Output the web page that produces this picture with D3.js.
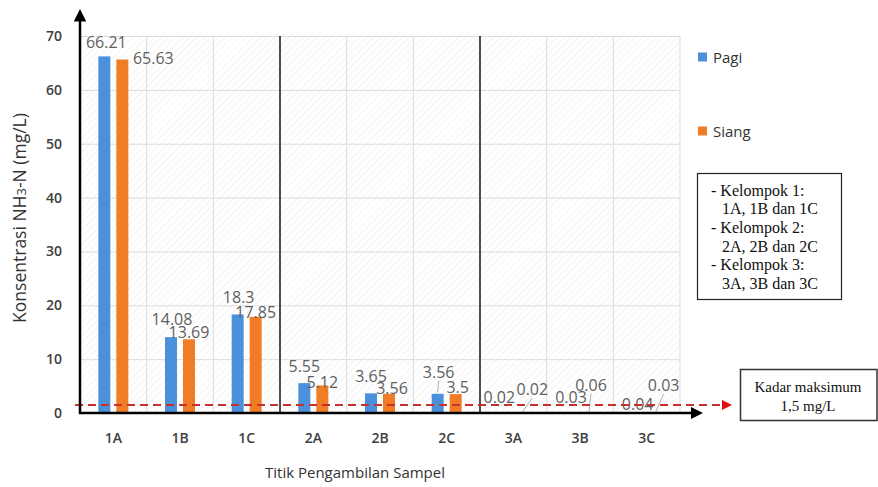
<!DOCTYPE html>
<html>
<head>
<meta charset="utf-8">
<script src="https://cdn.jsdelivr.net/npm/d3@7"></script>
<style>
  body { margin: 0; background: #fff; }
  svg { display: block; }
</style>
</head>
<body>
<svg></svg>
<script>
const categories = ['1A', '1B', '1C', '2A', '2B', '2C', '3A', '3B', '3C'];
const seriesNames = ['Pagi', 'Siang'];
const pagi = [66.21, 14.08, 18.3, 5.55, 3.65, 3.56, 0.02, 0.03, 0.04];
const siang = [65.63, 13.69, 17.85, 5.12, 3.56, 3.5, 0.02, 0.06, 0.03];
const labelsPagi = ['66.21', '14.08', '18.3', '5.55', '3.65', '3.56', '0.02', '0.03', '0.04'];
const labelsSiang = ['65.63', '13.69', '17.85', '5.12', '3.56', '3.5', '0.02', '0.06', '0.03'];
const yTicks = [0, 10, 20, 30, 40, 50, 60, 70];
const groupSplits = ['2A', '3A'];
const groupNotes = ['- Kelompok 1:', '1A, 1B dan 1C', '- Kelompok 2:', '2A, 2B dan 2C', '- Kelompok 3:', '3A, 3B dan 3C'];
const threshold = 1.5;
const thresholdNote = ['Kadar maksimum', '1,5 mg/L'];

// label nudges in px from the top centre of each bar (hand placed in the original)
const pagiShift = [[2, -14], [1, -18], [1, -17], [0, -17], [0, -17], [1, -22], [-5, -16], [0, -16], [0, -9]];
const siangShift = [[31, -2], [0, -7], [0, -5], [0, -3], [3, -6], [2, -7], [10, -24], [2, -28], [8, -28]];
const pagiLeader = ['2C'];
const siangLeader = ['3A', '3B', '3C'];

const colors = { Pagi: '#4a90db', Siang: '#f07c26' };
const sans = '"Open Sans", "Noto Sans", sans-serif';
const serif = '"Liberation Serif", "DejaVu Serif", serif';

const W = 878, H = 487;
const mLeft = 80, mRight = 680, mTop = 36, mBottom = 413;

const svg = d3.select('svg').attr('width', W).attr('height', H);

const defs = svg.append('defs');
const hatch = defs.append('pattern')
    .attr('id', 'hatch')
    .attr('width', 5).attr('height', 5)
    .attr('patternUnits', 'userSpaceOnUse')
    .attr('patternTransform', 'rotate(45)');
hatch.append('line')
    .attr('x1', 0).attr('y1', 0).attr('x2', 0).attr('y2', 5)
    .attr('stroke', '#f0f0f0').attr('stroke-width', 1.5);

defs.append('marker')
    .attr('id', 'blackArrow')
    .attr('viewBox', '0 0 10 10')
    .attr('refX', 2).attr('refY', 5)
    .attr('markerWidth', 5).attr('markerHeight', 5)
    .attr('orient', 'auto')
    .append('path').attr('d', 'M0,0 L10,5 L0,10 z').attr('fill', '#000');

defs.append('marker')
    .attr('id', 'redArrow')
    .attr('viewBox', '0 0 10 10')
    .attr('refX', 2).attr('refY', 5)
    .attr('markerWidth', 5).attr('markerHeight', 5)
    .attr('orient', 'auto')
    .append('path').attr('d', 'M0,0 L10,5 L0,10 z').attr('fill', '#e01010');

const x = d3.scaleBand().domain(categories).range([mLeft, mRight]).paddingInner(0).paddingOuter(0);
const bw = x.bandwidth();
const x1 = d3.scaleBand().domain(seriesNames).range([bw / 2 - 15, bw / 2 + 15]).paddingInner(1 / 3);
const y = d3.scaleLinear().domain([0, 70]).range([mBottom, mTop]);

// plot background
svg.append('rect')
    .attr('x', mLeft).attr('y', mTop - 3)
    .attr('width', mRight - mLeft).attr('height', mBottom - mTop + 3)
    .attr('fill', 'url(#hatch)');

// grid
svg.append('g')
    .attr('transform', `translate(${mLeft},0)`)
    .call(d3.axisLeft(y).tickValues(yTicks.slice(1)).tickSize(-(mRight - mLeft)).tickFormat(''))
    .call(g => g.select('.domain').remove())
    .call(g => g.selectAll('line').attr('stroke', '#dcdcdc'));

svg.append('g')
    .attr('transform', `translate(0,${mBottom})`)
    .call(d3.axisBottom(x).tickSize(-(mBottom - mTop)).tickFormat('').offset(0))
    .call(g => g.select('.domain').remove())
    .call(g => g.selectAll('.tick').attr('transform', d => `translate(${x(d) + bw},0)`))
    .call(g => g.selectAll('line').attr('stroke', '#dcdcdc'));

// group separators
svg.append('g').selectAll('line')
    .data(groupSplits)
    .join('line')
    .attr('x1', d => x(d)).attr('x2', d => x(d))
    .attr('y1', mTop).attr('y2', mBottom)
    .attr('stroke', '#4d4d4d').attr('stroke-width', 2);

// bars
const series = [
    { name: 'Pagi', values: pagi, labels: labelsPagi, shift: pagiShift, leader: pagiLeader },
    { name: 'Siang', values: siang, labels: labelsSiang, shift: siangShift, leader: siangLeader }
];

series.forEach(s => {
    const rows = categories.map((c, i) => ({ c, v: s.values[i], t: s.labels[i], sh: s.shift[i] }));
    const cx = d => x(d.c) + x1(s.name) + x1.bandwidth() / 2;

    svg.append('g').selectAll('rect')
        .data(rows)
        .join('rect')
        .attr('x', d => x(d.c) + x1(s.name))
        .attr('y', d => y(d.v))
        .attr('width', x1.bandwidth())
        .attr('height', d => y(0) - y(d.v))
        .attr('fill', colors[s.name]);

    svg.append('g').selectAll('line')
        .data(rows.filter(d => s.leader.includes(d.c)))
        .join('line')
        .attr('x1', d => cx(d) + d.sh[0]).attr('y1', d => y(d.v) + d.sh[1] + 9)
        .attr('x2', d => cx(d)).attr('y2', d => y(d.v) - 1)
        .attr('stroke', '#b0b0b0').attr('stroke-width', 1);

    svg.append('g').selectAll('text')
        .data(rows)
        .join('text')
        .attr('x', d => cx(d) + d.sh[0])
        .attr('y', d => y(d.v) + d.sh[1])
        .attr('text-anchor', 'middle')
        .attr('dominant-baseline', 'central')
        .attr('font-family', sans).attr('font-size', 16)
        .attr('fill', '#5f5f5f')
        .text(d => d.t);
});

// threshold line
svg.append('line')
    .attr('x1', mLeft - 5).attr('x2', 724)
    .attr('y1', y(threshold)).attr('y2', y(threshold))
    .attr('stroke', '#c9302c').attr('stroke-width', 2)
    .attr('stroke-dasharray', '8,5')
    .attr('marker-end', 'url(#redArrow)');

// axes
const yAxis = svg.append('g')
    .attr('transform', `translate(${mLeft},0)`)
    .call(d3.axisLeft(y).tickValues(yTicks).tickSize(0).tickPadding(18))
    .call(g => g.select('.domain').remove());
yAxis.selectAll('text')
    .attr('font-family', sans).attr('font-size', 14).attr('font-weight', 600).attr('fill', '#404040');

const xAxis = svg.append('g')
    .attr('transform', `translate(0,${mBottom})`)
    .call(d3.axisBottom(x).tickSize(0).tickPadding(20))
    .call(g => g.select('.domain').remove());
xAxis.selectAll('text')
    .attr('font-family', sans).attr('font-size', 14).attr('font-weight', 600).attr('fill', '#404040');

svg.append('line')
    .attr('x1', mLeft).attr('x2', mLeft)
    .attr('y1', mBottom + 1).attr('y2', 19)
    .attr('stroke', '#000').attr('stroke-width', 2.5)
    .attr('marker-end', 'url(#blackArrow)');

svg.append('line')
    .attr('x1', mLeft - 1).attr('x2', 693)
    .attr('y1', mBottom).attr('y2', mBottom)
    .attr('stroke', '#000').attr('stroke-width', 2.5)
    .attr('marker-end', 'url(#blackArrow)');

// titles
svg.append('text')
    .attr('x', 355).attr('y', 478)
    .attr('text-anchor', 'middle')
    .attr('font-family', sans).attr('font-size', 15).attr('fill', '#333')
    .text('Titik Pengambilan Sampel');

const yTitle = svg.append('text')
    .attr('transform', 'translate(26,218) rotate(-90)')
    .attr('text-anchor', 'middle')
    .attr('font-family', sans).attr('font-size', 17.5).attr('fill', '#333');
yTitle.append('tspan').text('Konsentrasi NH');
yTitle.append('tspan').attr('font-size', 13).text('3');
yTitle.append('tspan').text('-N (mg/L)');

// legend
const legend = svg.append('g').selectAll('g')
    .data(seriesNames)
    .join('g')
    .attr('transform', (d, i) => `translate(698,${57 + i * 74})`);
legend.append('rect')
    .attr('x', 0).attr('y', -4.5).attr('width', 9).attr('height', 9)
    .attr('fill', d => colors[d]);
legend.append('text')
    .attr('x', 15).attr('y', 0)
    .attr('dominant-baseline', 'central')
    .attr('font-family', sans).attr('font-size', 15).attr('fill', '#333')
    .text(d => d);

// group note box
svg.append('rect')
    .attr('x', 697.5).attr('y', 173.5).attr('width', 144).attr('height', 126)
    .attr('fill', '#fff').attr('stroke', '#222').attr('stroke-width', 1.2);
svg.append('g').selectAll('text')
    .data(groupNotes)
    .join('text')
    .attr('x', (d, i) => i % 2 === 0 ? 711 : 722)
    .attr('y', (d, i) => 190 + i * 18.7)
    .attr('dominant-baseline', 'central')
    .attr('font-family', serif).attr('font-size', 16).attr('fill', '#111')
    .text(d => d);

// threshold note box
svg.append('rect')
    .attr('x', 740.5).attr('y', 369.5).attr('width', 136.5).attr('height', 51)
    .attr('fill', '#fff').attr('stroke', '#333').attr('stroke-width', 1.5);
svg.append('g').selectAll('text')
    .data(thresholdNote)
    .join('text')
    .attr('x', 808)
    .attr('y', (d, i) => 387 + i * 19)
    .attr('text-anchor', 'middle')
    .attr('dominant-baseline', 'central')
    .attr('font-family', serif).attr('font-size', 15).attr('fill', '#111')
    .text(d => d);
</script>
</body>
</html>
